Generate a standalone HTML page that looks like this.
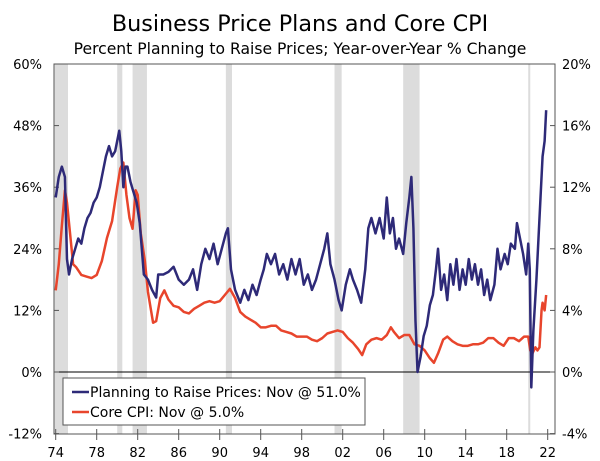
<!DOCTYPE html>
<html><head><meta charset="utf-8"><style>
body{margin:0;background:#fff;}
svg{display:block;font-family:"DejaVu Sans","Liberation Sans",sans-serif;}
</style></head><body>
<svg id="c" width="600" height="461">
<text x="300" y="31" text-anchor="middle" font-size="22.3" fill="#000">Business Price Plans and Core CPI</text>
<text x="300" y="54" text-anchor="middle" font-size="15.6" fill="#000">Percent Planning to Raise Prices; Year-over-Year % Change</text>
<g id="rec"></g><g id="axes"></g><g id="series"></g><g id="legend"></g>
</svg>
<script>
const recStart=[1973.9,1980.0,1981.5,1990.6,2001.2,2007.9,2020.1];
const recEnd=[1975.2,1980.5,1982.9,1991.2,2001.9,2009.5,2020.3];
const leftTicks=[-12,0,12,24,36,48,60];
const rightTicks=[-4,0,4,8,12,16,20];
const yearTicks=[1974,1978,1982,1986,1990,1994,1998,2002,2006,2010,2014,2018,2022];
const planYears=[1974.0,1974.3,1974.6,1974.9,1975.0,1975.1,1975.3,1975.6,1975.9,1976.2,1976.5,1976.8,1977.1,1977.4,1977.7,1978.0,1978.3,1978.6,1978.9,1979.2,1979.5,1979.8,1980.0,1980.2,1980.4,1980.6,1980.8,1981.0,1981.3,1981.6,1981.9,1982.2,1982.4,1982.6,1983.0,1983.4,1983.8,1984.0,1984.5,1985.0,1985.5,1986.0,1986.5,1987.0,1987.4,1987.8,1988.2,1988.6,1989.0,1989.4,1989.8,1990.2,1990.6,1990.8,1991.1,1991.5,1992.0,1992.4,1992.8,1993.2,1993.6,1994.0,1994.3,1994.6,1995.0,1995.4,1995.8,1996.2,1996.6,1997.0,1997.4,1997.8,1998.2,1998.6,1999.0,1999.4,1999.8,2000.2,2000.5,2000.8,2001.2,2001.6,2001.9,2002.3,2002.7,2003.0,2003.4,2003.8,2004.2,2004.5,2004.8,2005.2,2005.6,2006.0,2006.3,2006.6,2006.9,2007.2,2007.5,2007.9,2008.2,2008.5,2008.7,2008.9,2009.1,2009.3,2009.6,2009.9,2010.2,2010.5,2010.8,2011.1,2011.3,2011.6,2011.9,2012.2,2012.5,2012.8,2013.1,2013.4,2013.7,2014.0,2014.3,2014.6,2014.9,2015.2,2015.5,2015.8,2016.1,2016.4,2016.8,2017.1,2017.4,2017.8,2018.1,2018.4,2018.8,2019.0,2019.3,2019.6,2019.9,2020.1,2020.25,2020.4,2020.6,2020.9,2021.1,2021.3,2021.5,2021.7,2021.85];
const planValues=[34,38,40,38,30,22,19,22,24,26,25,28,30,31,33,34,36,39,42,44,42,43,45,47,43,36,40,40,37,35,33,29,24,19,18,16,14.5,19,19,19.5,20.5,18,17,18,20,16,21,24,22,25,21,24,27,28,20,16,13.5,16,14,17,15,18,20,23,21,23,19,21,18,22,19,22,17,19,16,18,21,24,27,21,18,14,12,17,20,18,16,13.5,20,28,30,27,30,26,34,27,30,24,26,23,29,34,38,28,10,0,3,7,9,13,15,20,24,16,19,14,21,17,22,16,20,17,22,18,21,17,20,15,18,14,17,24,20,23,21,25,24,29,26,23,19,25,20,-3,8,18,26,34,42,45,51];
const cpiYears=[1974.0,1974.3,1974.6,1974.9,1975.1,1975.4,1975.7,1976.0,1976.5,1977.0,1977.5,1978.0,1978.5,1979.0,1979.5,1980.0,1980.3,1980.6,1980.9,1981.2,1981.5,1981.8,1982.0,1982.3,1982.7,1983.0,1983.5,1983.8,1984.2,1984.6,1985.0,1985.5,1986.0,1986.5,1987.0,1987.5,1988.0,1988.5,1989.0,1989.5,1990.0,1990.5,1991.0,1991.5,1992.0,1992.5,1993.0,1993.5,1994.0,1994.5,1995.0,1995.5,1996.0,1996.5,1997.0,1997.5,1998.0,1998.5,1999.0,1999.5,2000.0,2000.5,2001.0,2001.5,2002.0,2002.5,2003.0,2003.5,2003.9,2004.3,2004.8,2005.3,2005.8,2006.3,2006.7,2007.0,2007.5,2008.0,2008.5,2009.0,2009.5,2010.0,2010.5,2010.9,2011.3,2011.8,2012.2,2012.7,2013.2,2013.7,2014.2,2014.7,2015.2,2015.7,2016.2,2016.7,2017.2,2017.7,2018.2,2018.7,2019.2,2019.7,2020.1,2020.3,2020.5,2020.8,2021.0,2021.2,2021.4,2021.5,2021.7,2021.85];
const cpiValues=[5.3,7,9.5,11.8,11,9,7,6.8,6.3,6.2,6.1,6.3,7.2,8.7,9.8,12,13.2,13.6,11.5,10,9.3,11.8,11.5,9,7.2,5.2,3.2,3.3,4.8,5.3,4.7,4.3,4.2,3.9,3.8,4.1,4.3,4.5,4.6,4.5,4.6,5.0,5.4,4.8,3.9,3.6,3.4,3.2,2.9,2.9,3.0,3.0,2.7,2.6,2.5,2.3,2.3,2.3,2.1,2.0,2.2,2.5,2.6,2.7,2.6,2.2,1.9,1.5,1.1,1.8,2.1,2.2,2.1,2.4,2.9,2.6,2.2,2.4,2.4,1.8,1.7,1.4,0.9,0.6,1.2,2.1,2.3,2.0,1.8,1.7,1.7,1.8,1.8,1.9,2.2,2.2,1.9,1.7,2.2,2.2,2.0,2.3,2.3,1.4,1.2,1.6,1.4,1.6,4.0,4.5,4.0,5.0];

const NS="http://www.w3.org/2000/svg";
const L=54,R=555,T=64,B=434;
function xs(y){return 55.7+(y-1974)*10.25;}
function yl(v){return 372-v*(308/60);}
function yr(v){return yl(v*3);}
function mk(tag,attrs,parent,text){const e=document.createElementNS(NS,tag);for(const k in attrs)e.setAttribute(k,attrs[k]);if(text!==undefined)e.textContent=text;parent.appendChild(e);return e;}
const rec=document.getElementById('rec'),ax=document.getElementById('axes'),se=document.getElementById('series'),lg=document.getElementById('legend');
recStart.forEach((s,i)=>{
  const r=mk('rect',{x:xs(s),y:T,width:Math.max(2,xs(recEnd[i])-xs(s)),height:B-T,fill:'#dcdcdc'},rec);
  
  
});
let f=mk('rect',{x:L,y:T,width:R-L,height:B-T,fill:'none',stroke:'#555','stroke-width':1},ax);


let z=mk('line',{x1:L,x2:R,y1:yl(0),y2:yl(0),stroke:'#000','stroke-width':1},ax);


leftTicks.forEach(v=>{
  mk('line',{x1:L,x2:L+5,y1:yl(v),y2:yl(v),stroke:'#555'},ax);
  const t=mk('text',{x:42,y:yl(v)+5,'text-anchor':'end','font-size':13},ax,v+'%');
  
  
});
rightTicks.forEach(v=>{
  mk('line',{x1:R-5,x2:R,y1:yr(v),y2:yr(v),stroke:'#555'},ax);
  const t=mk('text',{x:562,y:yr(v)+5,'font-size':13},ax,v+'%');
  
  
});
yearTicks.forEach(y=>{
  mk('line',{x1:xs(y),x2:xs(y),y1:B-5,y2:B+6,stroke:'#555'},ax);
  const t=mk('text',{x:xs(y),y:457,'text-anchor':'middle','font-size':13},ax,String(y%100).padStart(2,'0'));
  
  
});
const cp=mk('polyline',{points:cpiYears.map((y,i)=>xs(y)+','+yr(cpiValues[i])).join(' '),fill:'none',stroke:'#e8452c','stroke-width':2.5,'stroke-linejoin':'round'},se);


const pl=mk('polyline',{points:planYears.map((y,i)=>xs(y)+','+yl(planValues[i])).join(' '),fill:'none',stroke:'#2e2a78','stroke-width':2.5,'stroke-linejoin':'round'},se);


const box=mk('rect',{x:63,y:378,width:302,height:47,fill:'#fff',stroke:'#555'},lg);


mk('line',{x1:72,x2:89,y1:392,y2:392,stroke:'#2e2a78','stroke-width':2.5},lg);
const l1=mk('text',{x:90,y:397,'font-size':14},lg,'Planning to Raise Prices: Nov @ 51.0%');


mk('line',{x1:72,x2:89,y1:412,y2:412,stroke:'#e8452c','stroke-width':2.5},lg);
const l2=mk('text',{x:90,y:417,'font-size':14},lg,'Core CPI: Nov @ 5.0%');


</script>
</body></html>
